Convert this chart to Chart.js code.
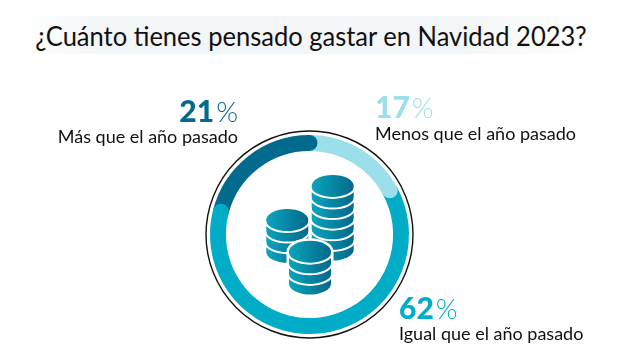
<!DOCTYPE html>
<html lang="es">
<head>
<meta charset="utf-8">
<title>Navidad 2023</title>
<script src="https://cdn.jsdelivr.net/npm/chart.js@4"></script>
<style>
  html, body { margin: 0; padding: 0; background: #fff; }
  #wrap { position: relative; width: 639px; height: 364px; overflow: hidden; font-family: Lato, sans-serif; }
  #band {
    position: absolute; left: 15px; top: 16px; width: 590px; height: 38px;
    background: linear-gradient(90deg, rgba(243,246,248,0), #f3f6f8 15%, #f3f6f8 75%, rgba(243,246,248,0));
  }
  #title {
    position: absolute; left: 0; top: 18px; width: 622px; margin: 0; text-align: center; white-space: nowrap;
    font: 400 27px/36px Lato, sans-serif; color: #111;
    transform: scaleX(0.945);
  }
  canvas { position: absolute; left: 0; top: 0; }
</style>
</head>
<body>
<div id="wrap">
  <div id="band"></div>
  <h1 id="title">¿Cuánto tienes pensado gastar en Navidad 2023?</h1>
  <canvas id="chart" width="639" height="364"></canvas>
</div>
<script>
// === Data ===
const categories = ["Menos que el año pasado", "Igual que el año pasado", "Más que el año pasado"];
const values = [17, 62, 21];
const colors = ["#9adfea", "#00acc6", "#026a8c"];

// where each label sits: anchor x, baseline of the number, baseline of the text
const labelPos = [
  { align: "left", x: 375, numY: 118, textY: 140 },
  { align: "left", x: 399, numY: 319, textY: 340 },
  { align: "right", x: 238, numY: 122, textY: 143 },
];

// === Outer ring, round segment ends ===
const ringPlugin = {
  id: "ring",
  afterDatasetsDraw(chart) {
    const { ctx } = chart;
    const arcs = chart.getDatasetMeta(0).data;
    const { x, y, outerRadius, innerRadius } = arcs[0].getProps(["x", "y", "outerRadius", "innerRadius"], true);
    const mid = (outerRadius + innerRadius) / 2;
    const capR = (outerRadius - innerRadius) / 2;

    ctx.save();
    ctx.strokeStyle = "#111";
    ctx.lineWidth = 1.4;
    ctx.beginPath();
    ctx.arc(x, y, outerRadius + 4, 0, Math.PI * 2);
    ctx.stroke();

    arcs.forEach((arc, i) => {
      const end = arc.getProps(["endAngle"], true).endAngle;
      ctx.fillStyle = colors[i];
      ctx.beginPath();
      ctx.arc(x + Math.cos(end) * mid, y + Math.sin(end) * mid, capR, 0, Math.PI * 2);
      ctx.fill();
    });
    ctx.restore();

    drawCoins(ctx, x, y);
  },
};

// === Coin icon in the middle ===
function coinStack(ctx, cx, top, layers, halo) {
  const rx = 21, ry = 11, step = 10.6;
  const bottom = top + layers * step;
  const outline = () => {
    ctx.beginPath();
    ctx.ellipse(cx, top, rx, ry, 0, Math.PI, 0);
    ctx.lineTo(cx + rx, bottom);
    ctx.ellipse(cx, bottom, rx, ry, 0, 0, Math.PI);
    ctx.closePath();
  };
  if (halo) {
    outline();
    ctx.strokeStyle = "#fff";
    ctx.lineWidth = 5;
    ctx.stroke();
  }
  const grad = ctx.createLinearGradient(cx - rx, 0, cx + rx, 0);
  grad.addColorStop(0, "#08a5bd");
  grad.addColorStop(1, "#05688b");
  outline();
  ctx.fillStyle = grad;
  ctx.fill();
  ctx.strokeStyle = "#fff";
  ctx.lineWidth = 2;
  for (let k = 0; k < layers; k++) {
    ctx.beginPath();
    ctx.ellipse(cx, top + k * step + 1, rx + 1, ry, 0, 0, Math.PI);
    ctx.stroke();
  }
}

function drawCoins(ctx, x, y) {
  ctx.save();
  coinStack(ctx, x + 23.2, y - 48.6, 6, false);
  coinStack(ctx, x - 22.2, y - 14.5, 3, false);
  coinStack(ctx, x + 0.5, y + 17.2, 3, true);
  ctx.restore();
}

// === Percent and category labels ===
const labelPlugin = {
  id: "labels",
  afterDraw(chart) {
    const { ctx } = chart;
    ctx.save();
    ctx.textBaseline = "alphabetic";
    categories.forEach((name, i) => {
      const p = labelPos[i];
      const num = String(values[i]);
      ctx.fillStyle = colors[i];
      ctx.font = "900 30px Lato";
      const numW = ctx.measureText(num).width;
      ctx.font = "300 28px Lato";
      const pctW = ctx.measureText("%").width;
      const startX = p.align === "left" ? p.x : p.x - numW - 2 - pctW;
      ctx.textAlign = "left";
      ctx.font = "900 30px Lato";
      ctx.fillText(num, startX, p.numY);
      ctx.font = "300 28px Lato";
      ctx.fillText("%", startX + numW + 2, p.numY);

      ctx.fillStyle = "#111";
      ctx.font = "400 18px Lato";
      ctx.textAlign = p.align;
      ctx.fillText(name, p.x, p.textY);
    });
    ctx.restore();
  },
};

// === Doughnut ===
new Chart(document.getElementById("chart"), {
  type: "doughnut",
  data: {
    labels: categories,
    datasets: [
      {
        data: values,
        backgroundColor: colors,
        borderWidth: 0,
      },
    ],
  },
  options: {
    responsive: false,
    animation: false,
    radius: 99.5,
    cutout: "84%",
    layout: { padding: { top: 105, right: 20 } },
    plugins: { legend: { display: false }, tooltip: { enabled: false } },
  },
  plugins: [ringPlugin, labelPlugin],
});
</script>
</body>
</html>
